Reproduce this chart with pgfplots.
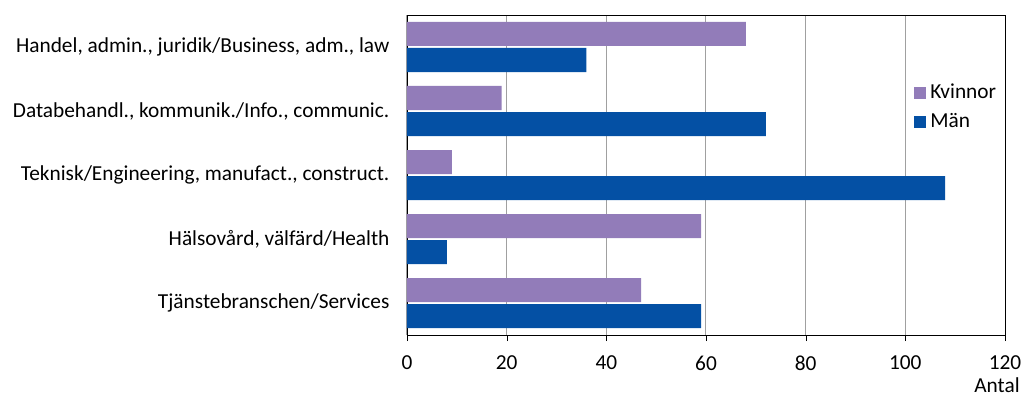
\documentclass[border=0pt]{standalone}
\usepackage{pgfplots}
\pgfplotsset{compat=1.18}
\usepackage{fontspec}
\setmainfont{Carlito}
\definecolor{kv}{RGB}{146,124,185}
\definecolor{man}{RGB}{4,80,164}
\definecolor{gridc}{RGB}{160,160,160}
\newcommand{\chf}{\fontsize{16}{19}\selectfont}
\begin{document}
\begin{tikzpicture}
\chf
\begin{axis}[
  at={(0,0)}, anchor=south west,
  scale only axis,
  width=448.5pt, height=240pt,
  xbar, bar width=18pt,
  xmin=0, xmax=120,
  ymin=-0.5, ymax=4.5,
  xtick={0,20,40,60,80,100,120},
  ytick={0,1,2,3,4},
  yticklabels={Tjänstebranschen/Services, {Hälsovård, välfärd/Health}, {Teknisk/Engineering, manufact., construct.}, {Databehandl., kommunik./Info., communic.}, {Handel, admin., juridik/Business, adm., law}},
  y tick label style={inner sep=0pt, xshift=-8.5pt, font=\chf},
  x tick label style={font=\chf, yshift=-5.5pt},
  /pgf/number format/assume math mode=true,
  major y tick style={draw=none},
  xtick style={black},
  xtick pos=bottom,
  tick align=outside,
  major tick length=4.5pt,
  xmajorgrids, grid style={gridc, line width=0.75pt},
  axis line style={black, line width=0.6pt},
  legend style={at={(0.847,0.80)}, anchor=north west, draw=none, fill=none,
    font=\chf, row sep=2pt, inner sep=0pt, nodes={inner sep=3.5pt}},
  legend cell align=left,
  legend image code/.code={\fill[#1] (0pt,-4.5pt) rectangle (9pt,4.5pt);},
  clip=false,
]
\addplot[draw=none, fill=kv, bar shift=9.75pt] coordinates {(47,0) (59,1) (9,2) (19,3) (68,4)};
\addlegendentry{Kvinnor}
\addplot[draw=none, fill=man, bar shift=-9.75pt] coordinates {(59,0) (8,1) (108,2) (72,3) (36,4)};
\addlegendentry{Män}
\node[anchor=north east, inner sep=0pt, font=\chf] at (rel axis cs:1,0) [xshift=11.25pt, yshift=-32pt] {Antal};
\end{axis}
\pgfresetboundingbox
\path[use as bounding box] (-305.25pt,-45.75pt) rectangle (462.75pt,251.25pt);
\end{tikzpicture}
\end{document}
